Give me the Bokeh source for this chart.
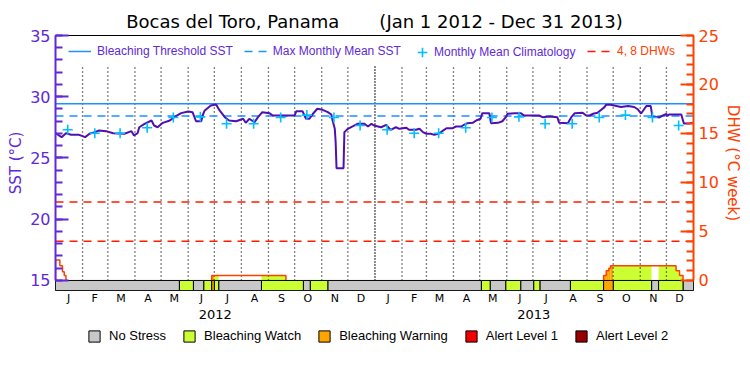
import pandas as pd
from bokeh.plotting import figure
from bokeh.layouts import column
from bokeh.models import (Range1d, LinearAxis, FixedTicker, Legend, LegendItem,
                          ColumnDataSource)
from bokeh.embed import file_html
from bokeh.resources import INLINE

# ---------------- data ----------------
period_start = pd.Timestamp("2012-01-01")
period_end = pd.Timestamp("2014-01-01")
title_text = "Bocas del Toro, Panama\u00a0\u00a0\u00a0\u00a0\u00a0\u00a0\u00a0(Jan 1 2012 - Dec 31 2013)"

month_letters = ["J", "F", "M", "A", "M", "J", "J", "A", "S", "O", "N", "D"]
year_labels = ["2012", "2013"]

# daily SST (days since Jan 1 2012, degC)
sst_day = [0, 7, 12, 18, 27, 34, 39, 45, 50, 58,
           66, 79, 87, 90, 94, 96, 102, 110, 113, 117,
           123, 131, 136, 144, 152, 157, 161, 167, 169, 171,
           178, 184, 188, 194, 199, 207, 215, 218, 222, 228,
           232, 237, 245, 249, 274, 276, 283, 287, 291, 295,
           300, 306, 312, 316, 317, 320, 321, 322, 330, 331,
           335, 341, 346, 354, 358, 362, 365, 373, 379, 384,
           390, 394, 402, 405, 413, 417, 421, 425, 430, 434,
           440, 444, 448, 455, 459, 465, 468, 472, 478, 482,
           487, 489, 497, 499, 507, 512, 516, 518, 526, 533,
           537, 554, 558, 566, 575, 577, 587, 591, 595, 604,
           608, 612, 616, 621, 625, 629, 631, 636, 648, 656,
           663, 667, 671, 675, 677, 682, 684, 686, 692, 696,
           700, 701, 703, 717, 720, 726, 730]
sst_val = [27.02, 26.70, 27.02, 26.89, 26.89, 26.70, 26.98, 27.11, 27.24, 27.19,
           27.02, 26.98, 27.19, 26.84, 27.02, 27.51, 27.79, 28.06, 27.65, 27.51,
           27.87, 28.06, 28.33, 28.66, 28.80, 28.74, 28.00, 28.00, 28.55, 28.88,
           29.29, 29.37, 28.88, 28.33, 28.06, 28.00, 28.20, 27.87, 28.20, 27.92,
           28.33, 28.74, 28.66, 28.47, 28.47, 28.82, 28.82, 28.20, 28.20, 28.61,
           29.02, 28.93, 28.74, 28.55, 28.20, 27.38, 26.29, 24.17, 24.17, 27.11,
           27.38, 27.60, 27.79, 27.79, 27.57, 27.79, 27.65, 27.51, 27.71, 27.30,
           27.51, 27.38, 27.47, 27.30, 27.30, 27.38, 27.11, 26.98, 26.98, 26.89,
           27.02, 27.24, 27.43, 27.43, 27.57, 27.57, 27.71, 27.84, 27.87, 28.06,
           28.20, 28.66, 28.66, 27.84, 27.87, 28.00, 28.33, 28.61, 28.66, 28.66,
           28.47, 28.47, 28.33, 28.39, 28.33, 27.87, 27.84, 28.33, 28.66, 28.69,
           28.47, 28.47, 28.61, 28.69, 28.92, 29.15, 29.35, 29.34, 29.16, 29.24,
           29.16, 28.98, 28.63, 29.04, 29.24, 29.24, 28.31, 28.39, 28.31, 28.47,
           28.59, 28.43, 28.55, 28.55, 27.82, 27.82, 27.86]

# monthly mean climatology (Jan..Dec), degC
clim_val = [27.30, 27.02, 27.02, 27.47, 28.30, 28.36, 27.79, 27.79, 28.30, 28.50, 28.30, 27.65]
mmm_sst = 28.43
threshold_sst = 29.43
dhw_levels = [4, 8]

# Degree heating weeks: value holds from dhw_day[i] until the next change
dhw_day = [0, 5, 8, 10, 12, 179, 264, 628, 631, 634, 636, 711, 715, 719]
dhw_val = [2.1, 1.5, 0.9, 0.5, 0.0, 0.5, 0.0, 0.5, 1.0, 1.25, 1.5, 1.0, 0.5, 0.0]

# bleaching alert status: level holds from status_start[i] until the next start
status_start = [0, 142, 158, 170, 179, 182, 187, 236, 284, 292, 312, 488, 498, 516,
                533, 548, 555, 590, 628, 639, 683, 691, 719]
status_level = [0, 1, 0, 1, 2, 1, 0, 1, 0, 1, 0, 1, 0, 1,
                0, 1, 0, 1, 2, 1, 0, 1, 0]
status_names = ["No Stress", "Bleaching Watch", "Bleaching Warning", "Alert Level 1", "Alert Level 2"]

# ---------------- styles ----------------
PURPLE = "#6028d8"
SSTLINE = "#5010b0"
ORANGE = "#ff4000"
RED = "#ff1a00"
BLUE = "#1e90ff"
CYAN = "#00bfff"
status_colors = ["#c8c8c8", "#ccff33", "#ffa500", "#f00000", "#960000"]
FONT = "DejaVu Sans"
LFONT = "Liberation Sans"

n_days = (period_end - period_start).days
month_starts = [(d - period_start).days for d in pd.date_range(period_start, period_end, freq="MS")]
month_mids = [(a + b) // 2 for a, b in zip(month_starts[:-1], month_starts[1:])]
clim_day = [m + 14 for m in month_starts[:-1]]
clim_all = clim_val * 2
year_starts = [(pd.Timestamp(f"{y}-01-01") - period_start).days for y in year_labels] + [n_days]
year_mids = [(a + b) // 2 for a, b in zip(year_starts[:-1], year_starts[1:])]
status_end = status_start[1:] + [n_days]

sst_lo, sst_base, sst_top = 14.18, 15, 35
dhw_top = 25
scale = dhw_top / (sst_top - sst_base)

p = figure(frame_width=638, frame_height=255, x_range=Range1d(0, n_days), y_range=Range1d(sst_lo, sst_top),
           x_axis_type=None, y_axis_type=None, output_backend="svg", toolbar_location=None,
           min_border_left=55, min_border_right=0, min_border_top=35, min_border_bottom=0)
p.extra_y_ranges = {"dhw": Range1d((sst_lo - sst_base) * scale, dhw_top)}
p.outline_line_color = "black"
p.background_fill_color = "white"
p.border_fill_color = "white"
p.title.text = title_text
p.title.align = "center"
p.title.text_font = FONT
p.title.text_font_size = "18px"
p.title.text_font_style = "normal"
p.title.text_color = "black"
p.title.standoff = 7

# DHW fill coloured by status
fl, fr, ft, fc = [], [], [], []
for i, (d, v) in enumerate(zip(dhw_day, dhw_val)):
    if v <= 0:
        continue
    d_next = dhw_day[i + 1] if i + 1 < len(dhw_day) else n_days
    for s0, s1, lev in zip(status_start, status_end, status_level):
        if lev == 0:
            continue
        a, b = max(d, s0), min(d_next, s1)
        if b > a:
            fl.append(a); fr.append(b); ft.append(v); fc.append(status_colors[lev])
p.quad(left=fl, right=fr, bottom=0, top=ft, fill_color=fc, line_color=None, y_range_name="dhw")

# month separators
inner = [m for m in month_starts[1:-1] if m not in year_starts]
p.segment(x0=inner, y0=sst_base, x1=inner, y1=32.6, line_color="black", line_dash="1 3", line_width=1.3)
p.segment(x0=year_starts[1:2], y0=sst_base, x1=year_starts[1:2], y1=32.6, line_color="black",
          line_dash="1 2", line_width=1.8)

# reference lines
thr_r = p.line([0, n_days], [threshold_sst, threshold_sst], line_color=BLUE, line_width=1.5)
mmm_r = p.line([0, n_days], [mmm_sst, mmm_sst], line_color=BLUE, line_width=1.5, line_dash="8 6")
dhw_r = p.multi_line(xs=[[0, n_days] for _ in dhw_levels], ys=[[v, v] for v in dhw_levels],
                     line_color=RED, line_width=1.5, line_dash="8 6", y_range_name="dhw")

# SST and climatology
p.line(sst_day, sst_val, line_color=SSTLINE, line_width=2)
clim_r = p.scatter(clim_day, clim_all, marker="cross", size=10, line_color=CYAN, line_width=1.6)

# DHW outline (runs of non-zero values)
xs, ys = [], []
cur = None
for i, (d, v) in enumerate(zip(dhw_day, dhw_val)):
    d_next = dhw_day[i + 1] if i + 1 < len(dhw_day) else n_days
    if v > 0:
        if cur is None:
            cur = ([d], [0])
        cur[0].extend([d, d_next]); cur[1].extend([v, v])
    elif cur is not None:
        cur[0].append(d); cur[1].append(0)
        xs.append(cur[0]); ys.append(cur[1]); cur = None
if cur is not None:
    xs.append(cur[0]); ys.append(cur[1])
p.multi_line(xs=xs, ys=ys, line_color=ORANGE, line_width=1.5, y_range_name="dhw")

# status strip
def status_source(lev):
    left = [s for s, l in zip(status_start, status_level) if l == lev]
    right = [e for e, l in zip(status_end, status_level) if l == lev]
    if not left:  # level never reached: a NaN row keeps a legend swatch
        left, right = [float("nan")], [float("nan")]
    return ColumnDataSource(dict(left=left, right=right))

for lev, col in enumerate(status_colors):
    p.quad(left="left", right="right", bottom=sst_lo, top=sst_base, source=status_source(lev),
           fill_color=col, line_color="black", line_width=1)

# axes
ly = LinearAxis(ticker=FixedTicker(ticks=list(range(15, 36, 5)), minor_ticks=list(range(15, 36))),
                bounds=(sst_base, sst_top), axis_label="SST (°C)")
ry = LinearAxis(y_range_name="dhw",
                ticker=FixedTicker(ticks=list(range(0, 26, 5)), minor_ticks=list(range(0, 26))),
                bounds=(0, dhw_top), axis_label="DHW (°C week)")
for ax, col in ((ly, PURPLE), (ry, ORANGE)):
    ax.axis_line_color = col
    ax.axis_line_width = 2
    ax.major_tick_line_color = col
    ax.major_tick_line_width = 2
    ax.major_tick_in = 13
    ax.major_tick_out = 0
    ax.minor_tick_line_color = col
    ax.minor_tick_line_width = 2
    ax.minor_tick_in = 7
    ax.minor_tick_out = 0
    ax.major_label_text_color = col
    ax.major_label_text_font = FONT
    ax.major_label_text_font_size = "16px"
    ax.major_label_standoff = 5
    ax.axis_label_text_color = col
    ax.axis_label_text_font = FONT
    ax.axis_label_text_font_size = "15px"
    ax.axis_label_text_font_style = "normal"
    ax.axis_label_standoff = 2
p.add_layout(ly, "left")
p.add_layout(ry, "right")

mx = LinearAxis(ticker=FixedTicker(ticks=month_mids),
                major_label_overrides={m: l for m, l in zip(month_mids, month_letters * 2)})
yx = LinearAxis(ticker=FixedTicker(ticks=year_mids),
                major_label_overrides={m: l for m, l in zip(year_mids, year_labels)})
for ax, fs, so in ((mx, "11px", 1), (yx, "13px", 2)):
    ax.axis_line_color = None
    ax.major_tick_line_color = None
    ax.minor_tick_line_color = None
    ax.major_tick_in = 0
    ax.major_tick_out = 0
    ax.minor_tick_in = 0
    ax.minor_tick_out = 0
    ax.major_label_text_font = FONT
    ax.major_label_text_font_size = fs
    ax.major_label_text_color = "black"
    ax.major_label_standoff = so
p.add_layout(mx, "below")
p.add_layout(yx, "below")

# legends
def make_legend(items, loc, gw, gh, color, size, standoff, spacing):
    return Legend(items=items, orientation="horizontal", location=loc, glyph_width=gw,
                  glyph_height=gh, label_height=gh, label_standoff=standoff, spacing=spacing,
                  padding=0, margin=0, border_line_alpha=0, background_fill_alpha=0,
                  label_text_font=LFONT, label_text_font_size=size, label_text_color=color)

p.add_layout(make_legend([LegendItem(label="Bleaching Threshold SST", renderers=[thr_r]),
                          LegendItem(label="Max Monthly Mean SST", renderers=[mmm_r])],
                         (13, 232), 23, 12, PURPLE, "12px", 6, 11), "center")
p.add_layout(make_legend([LegendItem(label="Monthly Mean Climatology", renderers=[clim_r])],
                         (355, 226), 24, 24, PURPLE, "12px", 0, 0), "center")
p.add_layout(make_legend([LegendItem(label="4, 8 DHWs", renderers=[dhw_r])],
                         (532, 232), 24, 12, ORANGE, "12px", 6, 11), "center")

# status legend strip (its own small figure; swatches use the same status quads, kept out of view)
p2 = figure(width=734, height=30, x_range=Range1d(0, 1), y_range=Range1d(0, 1),
            x_axis_type=None, y_axis_type=None, output_backend="svg", toolbar_location=None,
            min_border=0)
p2.outline_line_color = None
status_renderers = []
for lev, col in enumerate(status_colors):
    r = p2.quad(left="left", right="right", bottom=sst_lo, top=sst_base, source=status_source(lev),
                fill_color=col, line_color="black", line_width=1)
    status_renderers.append(r)
p2.add_layout(make_legend([LegendItem(label=n, renderers=[r]) for n, r in zip(status_names, status_renderers)],
                          (32, 8), 14, 14, "black", "13px", 8, 16), "center")

open("out.html", "w").write(file_html(column(p, p2, spacing=0), INLINE))
